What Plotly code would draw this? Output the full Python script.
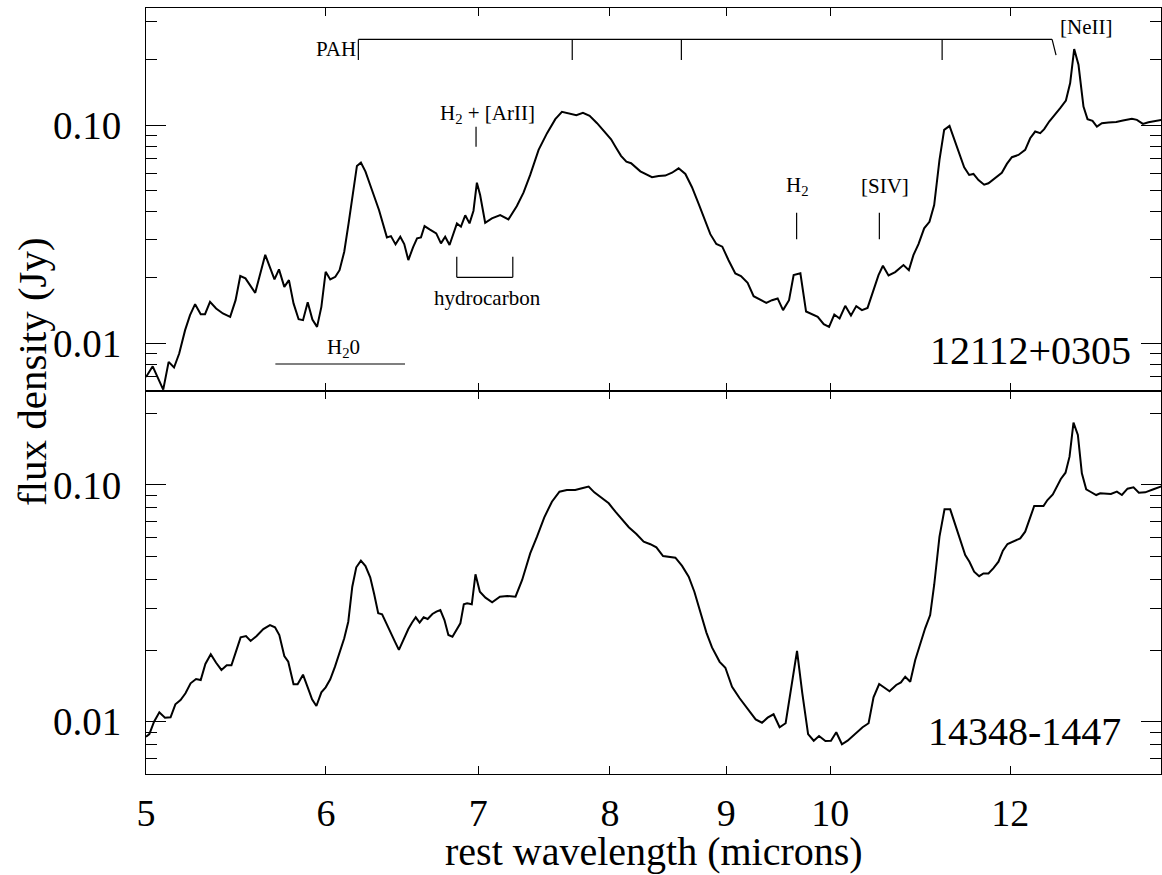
import math
import plotly.graph_objects as go

# ---------------- data ----------------
wl_a = [5.000, 5.034, 5.088, 5.116, 5.144, 5.171, 5.202, 5.228, 5.255, 5.285, 5.308, 5.335, 5.368, 5.405, 5.445,
        5.475, 5.501, 5.530, 5.585, 5.642, 5.695, 5.721, 5.752, 5.779, 5.806, 5.836, 5.862, 5.890, 5.918, 5.946,
        5.972, 5.998, 6.026, 6.057, 6.083, 6.112, 6.139, 6.166, 6.191, 6.216, 6.245, 6.286, 6.331, 6.382, 6.408,
        6.438, 6.469, 6.495, 6.522, 6.553, 6.580, 6.606, 6.630, 6.664, 6.709, 6.741, 6.770, 6.800, 6.851, 6.879,
        6.909, 6.939, 6.967, 6.991, 7.014, 7.050, 7.098, 7.158, 7.218, 7.280, 7.329, 7.379,
        7.442, 7.506, 7.569, 7.620, 7.672, 7.732, 7.784, 7.837, 7.896, 7.955, 8.009, 8.052, 8.090, 8.134, 8.173,
        8.250, 8.348, 8.404, 8.461, 8.519, 8.576, 8.635, 8.693, 8.752, 8.811, 8.856, 8.910, 8.964, 9.021, 9.083,
        9.135, 9.197, 9.253, 9.316, 9.373, 9.427, 9.481, 9.533, 9.591, 9.636, 9.702, 9.758, 9.818, 9.874, 9.934,
        9.988, 10.041, 10.095, 10.153, 10.212, 10.267, 10.326, 10.385, 10.448, 10.501, 10.548, 10.608, 10.680,
        10.770, 10.829,
        10.879, 10.935, 10.998, 11.057, 11.110, 11.170, 11.223, 11.284, 11.337, 11.399, 11.453, 11.511, 11.561,
        11.620, 11.687, 11.738, 11.818, 11.898, 11.959, 12.020, 12.100, 12.183, 12.245, 12.307, 12.370, 12.420,
        12.483, 12.559, 12.623, 12.696, 12.751, 12.803, 12.859, 12.903, 12.924, 12.977, 13.043, 13.101, 13.167,
        13.256, 13.360, 13.451, 13.574, 13.643, 13.726, 13.804, 13.898, 13.997]
flux_a = [0.00698, 0.00782, 0.00611, 0.00819, 0.00772, 0.00895, 0.01146, 0.01343, 0.01508, 0.01356, 0.01356,
          0.01545, 0.0144, 0.01367, 0.01318, 0.01573, 0.0203, 0.0198, 0.0170, 0.02541, 0.01959, 0.02178, 0.01811,
          0.01945, 0.01520, 0.01286, 0.01273, 0.0154, 0.01282, 0.01186, 0.01466, 0.02123, 0.01959, 0.02014, 0.0216,
          0.02624, 0.03542, 0.04868, 0.0650, 0.0673, 0.0612, 0.0504, 0.0408, 0.03055, 0.03097, 0.02837, 0.03076,
          0.02846, 0.02403, 0.02748, 0.03022, 0.03055, 0.03443, 0.03325, 0.03187, 0.02868, 0.03076, 0.02817,
          0.03542, 0.0342, 0.03857, 0.03542, 0.04049, 0.05445, 0.04780, 0.03565, 0.03736, 0.03869, 0.03697,
          0.04256, 0.0490, 0.0591,
          0.0770, 0.0919, 0.1066, 0.1151, 0.1136, 0.1112, 0.1139, 0.1104, 0.1021, 0.0935, 0.0862, 0.0784, 0.0723,
          0.0680, 0.0669, 0.0614, 0.0577, 0.0585, 0.0587, 0.0605, 0.0634, 0.0597, 0.0519, 0.0435, 0.0364, 0.0316,
          0.0285, 0.0277, 0.0240, 0.02087, 0.02028, 0.01889, 0.01641, 0.01585, 0.01529, 0.01573, 0.01602, 0.01416,
          0.01573, 0.0205, 0.0209, 0.01395, 0.01356, 0.01318, 0.0122, 0.01186, 0.01352, 0.01296, 0.01482, 0.01338,
          0.01477, 0.01416, 0.0145, 0.0175, 0.0205, 0.02262, 0.02043, 0.02116, 0.02279, 0.02161,
          0.02533, 0.02846, 0.0336, 0.03602, 0.0430, 0.0693, 0.0952, 0.0993, 0.0871, 0.0738, 0.0641, 0.0591,
          0.0597, 0.0560, 0.0533, 0.0541, 0.0570, 0.0605, 0.0664, 0.0713, 0.0730, 0.0770, 0.0871, 0.0935, 0.0919,
          0.0959, 0.1039, 0.1115, 0.1197, 0.1297, 0.156, 0.2236, 0.1893, 0.1403, 0.1218, 0.1066, 0.1046, 0.0985,
          0.1021, 0.1028, 0.1035, 0.1050, 0.1069, 0.1058, 0.1014, 0.1032, 0.1046, 0.1058]

wl_b = [5.000, 5.017, 5.041, 5.068, 5.097, 5.126, 5.151, 5.178, 5.204, 5.231, 5.260, 5.285, 5.310, 5.339, 5.368,
        5.397, 5.426, 5.452, 5.477, 5.503, 5.533, 5.559, 5.593, 5.631, 5.669, 5.698, 5.723, 5.752, 5.775, 5.806,
        5.830, 5.862, 5.890, 5.916, 5.942, 5.972, 5.998, 6.026, 6.055, 6.083, 6.112, 6.137, 6.162, 6.187, 6.216,
        6.245, 6.275, 6.300, 6.326, 6.351, 6.382, 6.408, 6.434, 6.460, 6.491, 6.522, 6.546, 6.571, 6.597, 6.624,
        6.651, 6.683, 6.710, 6.737, 6.765, 6.792, 6.820, 6.847, 6.875, 6.899, 6.922, 6.955, 6.981, 7.012, 7.052,
        7.100, 7.156, 7.209, 7.270, 7.319, 7.379,
        7.430, 7.485, 7.543, 7.601, 7.658, 7.723, 7.776, 7.829, 7.874, 7.930, 7.990, 8.044, 8.099, 8.154, 8.217,
        8.278, 8.334, 8.385, 8.442, 8.499, 8.548, 8.606, 8.664, 8.714, 8.767, 8.821, 8.871, 8.940, 8.992, 9.053,
        9.123, 9.191, 9.272, 9.332, 9.385, 9.442, 9.500, 9.558, 9.610, 9.669, 9.721, 9.778, 9.834, 9.887, 9.951,
        10.007, 10.061, 10.119, 10.177, 10.267, 10.333, 10.396, 10.448, 10.508, 10.619, 10.691, 10.742, 10.789,
        10.844,
        10.899, 10.954, 11.009, 11.065, 11.110, 11.170, 11.227, 11.292, 11.349, 11.407, 11.465, 11.514, 11.569,
        11.628, 11.679, 11.738, 11.798, 11.858, 11.911, 11.967, 12.048, 12.122, 12.183, 12.236, 12.295, 12.411,
        12.461, 12.529, 12.580, 12.631, 12.691, 12.743, 12.794, 12.851, 12.903, 12.960, 13.021, 13.092, 13.145,
        13.212, 13.288, 13.369, 13.437, 13.514, 13.596, 13.670, 13.758, 13.874, 13.997]
flux_b = [0.00864, 0.00887, 0.0100, 0.01096, 0.01040, 0.01044, 0.01184, 0.01235, 0.01318, 0.01453, 0.01515,
          0.0150, 0.01753, 0.01926, 0.01774, 0.01654, 0.01731, 0.01731, 0.01976, 0.02272, 0.02301, 0.02193,
          0.02301, 0.02463, 0.02561, 0.02504, 0.02324, 0.01895, 0.01792, 0.01439, 0.01439, 0.0158, 0.01397,
          0.01243, 0.01165, 0.0133, 0.01397, 0.0151, 0.01708, 0.01945, 0.0225, 0.02645, 0.03717, 0.0449, 0.04788,
          0.04547, 0.04074, 0.03462, 0.02871, 0.02843, 0.02587, 0.02377, 0.02178, 0.0201, 0.02235, 0.02463, 0.0262,
          0.02761, 0.0262, 0.02761, 0.02716, 0.02851, 0.02916, 0.02964, 0.02689, 0.02324, 0.02287, 0.02455,
          0.02603, 0.03132, 0.03162, 0.03132, 0.04195, 0.03543, 0.03342, 0.03193, 0.03375, 0.03397, 0.03375,
          0.03969, 0.05143,
          0.0605, 0.0730, 0.0850, 0.0937, 0.0953, 0.0953, 0.0968, 0.0984, 0.0931, 0.0884, 0.0837, 0.0771, 0.0716,
          0.0663, 0.0621, 0.0576, 0.0562, 0.0545, 0.0501, 0.0498, 0.0493, 0.0455, 0.0410, 0.0354, 0.0289, 0.0238,
          0.0206, 0.0179, 0.0169, 0.01405, 0.01256, 0.0114, 0.01023, 0.0099, 0.0104, 0.01075, 0.00947, 0.00985,
          0.01397, 0.0199, 0.01318, 0.00887, 0.00831, 0.0087, 0.00829, 0.00831, 0.00902, 0.00803, 0.00831, 0.00898,
          0.00947, 0.00985, 0.01268, 0.01443, 0.01344, 0.01429, 0.01466, 0.01549, 0.01476,
          0.01823, 0.0213, 0.02481, 0.02823, 0.0378, 0.0605, 0.0789, 0.0789, 0.0678, 0.0576, 0.0506, 0.0474,
          0.0430, 0.0412, 0.0423, 0.0423, 0.0445, 0.0474, 0.0528, 0.0563, 0.0578, 0.0595, 0.0635, 0.0711, 0.0815,
          0.0815, 0.0864, 0.0913, 0.0984, 0.1060, 0.1127, 0.1317, 0.1834, 0.1626, 0.1121, 0.0959, 0.0934, 0.0907,
          0.0922, 0.0916, 0.0916, 0.0937, 0.0907, 0.0965, 0.0977, 0.0928, 0.0931, 0.0959, 0.0990]

name_a = "12112+0305"
name_b = "14348-1447"

x_ticks = [5, 6, 7, 8, 9, 10, 12]
x_ticktext = ["5", "6", "7", "8", "9", "10", "12"]
y_ticks = [0.01, 0.1]
y_ticktext = ["0.01", "0.10"]
y_minor = [0.002, 0.003, 0.004, 0.005, 0.006, 0.007, 0.008, 0.009,
           0.02, 0.03, 0.04, 0.05, 0.06, 0.07, 0.08, 0.09,
           0.2, 0.3, 0.4, 0.5, 0.6, 0.7, 0.8, 0.9]

# feature markers (wavelengths in microns)
pah_bands = [6.2, 7.7, 8.6, 11.2]
pah_end = (12.52, 12.57)
arii_wl = 6.985
h2_wl = 9.665
siv_wl = 10.51
hydro_range = (6.85, 7.25)
h2o_range = (5.7, 6.5)

# ---------------- figure ----------------
FONT = "Liberation Serif"
L = math.log10
YR_A = [-2.2202, -0.4621]
YR_B = [-2.2210, -0.6029]

fig = go.Figure()
fig.add_trace(go.Scatter(x=wl_a, y=flux_a, mode="lines", line=dict(color="black", width=2),
                         xaxis="x", yaxis="y", showlegend=False, hoverinfo="skip"))
fig.add_trace(go.Scatter(x=wl_b, y=flux_b, mode="lines", line=dict(color="black", width=2),
                         xaxis="x2", yaxis="y2", showlegend=False, hoverinfo="skip"))
# empty traces so that the minor-tick overlay axes are drawn
for ya, xa in [("y3", "x"), ("y4", "x"), ("y5", "x2"), ("y6", "x2")]:
    fig.add_trace(go.Scatter(x=[None], y=[None], xaxis=xa, yaxis=ya, showlegend=False,
                             hoverinfo="skip", mode="lines"))

xcommon = dict(type="log", range=[L(5), L(13.98)], tickvals=x_ticks, ticktext=x_ticktext,
               ticks="inside", ticklen=8, tickwidth=1, tickcolor="black",
               showline=True, linecolor="black", linewidth=1, mirror="ticks",
               showgrid=False, zeroline=False,
               tickfont=dict(family=FONT, size=38, color="black"))
ycommon = dict(type="log", tickvals=y_ticks, ticktext=y_ticktext,
               ticks="inside", ticklen=20, tickwidth=1, tickcolor="black",
               showline=True, linecolor="black", linewidth=1, mirror="ticks",
               showgrid=False, zeroline=False, ticklabelstandoff=16,
               tickfont=dict(family=FONT, size=39, color="black"))
yminor = dict(type="log", tickvals=y_minor, ticks="inside", ticklen=11, tickwidth=1, tickcolor="black",
              showticklabels=False, showline=False, showgrid=False, zeroline=False)

fig.update_layout(
    width=1162, height=875,
    margin=dict(l=146, r=1, t=8, b=101),
    paper_bgcolor="white", plot_bgcolor="white",
    xaxis=dict(xcommon, anchor="y", showticklabels=False),
    yaxis=dict(ycommon, domain=[0.5, 1.0], range=YR_A, anchor="x"),
    xaxis2=dict(xcommon, anchor="y2", matches="x", ticklabelstandoff=5),
    yaxis2=dict(ycommon, domain=[0.0, 0.5], range=YR_B, anchor="x2"),
    yaxis3=dict(yminor, overlaying="y", range=YR_A, side="left", anchor="x"),
    yaxis4=dict(yminor, overlaying="y", range=YR_A, side="right", anchor="x"),
    yaxis5=dict(yminor, overlaying="y2", range=YR_B, side="left", anchor="x2"),
    yaxis6=dict(yminor, overlaying="y2", range=YR_B, side="right", anchor="x2"),
)

# panel-relative vertical positions -> paper coords (top panel)
def ptop(yd):
    return 0.5 + 0.5 * yd

shapes = []
def seg(x0, y0, x1, y1):
    # shapes on a log axis take data values (wavelengths) directly
    shapes.append(dict(type="line", xref="x", yref="paper", x0=x0, y0=ptop(y0), x1=x1, y1=ptop(y1),
                       line=dict(color="black", width=1.2)))

# PAH bracket
top_y, tick_y = 0.918, 0.864
seg(pah_bands[0], top_y, pah_end[0], top_y)
for w in pah_bands:
    seg(w, top_y, w, tick_y)
seg(pah_end[0], top_y, pah_end[1], 0.877)
# line ticks
seg(arii_wl, 0.690, arii_wl, 0.638)
seg(h2_wl, 0.4655, h2_wl, 0.396)
seg(siv_wl, 0.4655, siv_wl, 0.396)
# hydrocarbon bracket
seg(hydro_range[0], 0.3507, hydro_range[0], 0.2969)
seg(hydro_range[1], 0.3507, hydro_range[1], 0.2969)
seg(hydro_range[0], 0.2969, hydro_range[1], 0.2969)
# H2O band
seg(h2o_range[0], 0.0705, h2o_range[1], 0.0705)
fig.update_layout(shapes=shapes)

small = dict(family=FONT, size=21, color="black")
ann = []
def lab(text, wl, yd, xanchor="center"):
    # annotations on a log axis take log10 positions
    ann.append(dict(text=text, x=L(wl), y=ptop(yd), xref="x", yref="paper", xanchor=xanchor,
                    yanchor="middle", showarrow=False, font=small))

lab("PAH", 6.2, 0.893, xanchor="right")
lab("[NeII]", 12.96, 0.951)
lab("H<sub>2</sub> + [ArII]", 7.063, 0.722)
lab("hydrocarbon", 7.07, 0.242)
lab("H<sub>2</sub>0", 6.106, 0.112)
lab("H<sub>2</sub>", 9.672, 0.535)
lab("[SIV]", 10.567, 0.535)

big = dict(family=FONT, size=40, color="black")
ann.append(dict(text=name_a, x=0.9721, y=ptop(0.105), xref="paper", yref="paper", xanchor="right",
                yanchor="middle", showarrow=False, font=big))
ann.append(dict(text=name_b, x=0.9623, y=0.5 * 0.112, xref="paper", yref="paper", xanchor="right",
                yanchor="middle", showarrow=False, font=big))
# axis titles
ann.append(dict(text="rest wavelength (microns)", x=0.5, y=-0.1015, xref="paper", yref="paper",
                xanchor="center", yanchor="middle", showarrow=False,
                font=dict(family=FONT, size=40, color="black")))
ann.append(dict(text="flux density (Jy)", x=-0.1123, y=0.5248, xref="paper", yref="paper",
                xanchor="center", yanchor="middle", textangle=-90, showarrow=False,
                font=dict(family=FONT, size=41, color="black")))
fig.update_layout(annotations=ann)

fig.write_html("out.html")
